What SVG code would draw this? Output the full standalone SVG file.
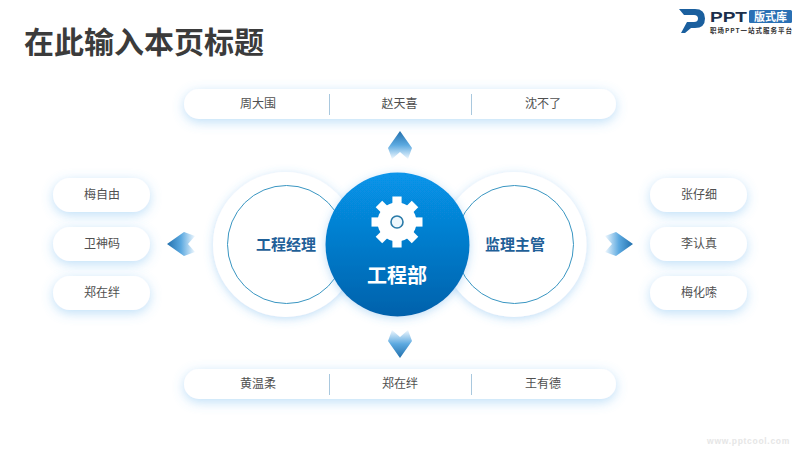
<svg xmlns="http://www.w3.org/2000/svg" xmlns:xlink="http://www.w3.org/1999/xlink" width="800" height="450" viewBox="0 0 800 450">
<style>
text{font-family:"Liberation Sans","Noto Sans CJK SC",sans-serif}
.cjk{font-family:"Noto Sans CJK SC",sans-serif}
.name{font-size:12px;fill:#505050;text-anchor:middle;dominant-baseline:central}
.bar,.pill,.disc{fill:#fff;filter:url(#soft)}
.div{stroke:#a9c8de;stroke-width:1}
.ring{fill:#fff;stroke:#3a96c2;stroke-width:1}
.sub{font-size:15px;font-weight:700;fill:#1f6098;text-anchor:middle;dominant-baseline:central}
</style>
<defs>
<filter id="soft" x="-30%" y="-60%" width="160%" height="240%"><feDropShadow dx="0" dy="3" stdDeviation="6" flood-color="#5db0ee" flood-opacity=".4"/></filter>
<filter id="softc" x="-30%" y="-30%" width="160%" height="160%"><feDropShadow dx="0" dy="2" stdDeviation="5" flood-color="#4aa3e8" flood-opacity=".35"/></filter>
<linearGradient id="core" x1="0" y1="0" x2="0" y2="1"><stop offset="0" stop-color="#0795ea"/><stop offset="1" stop-color="#0461ab"/></linearGradient>
<linearGradient id="arr" x1="0" y1="0" x2="1" y2="0"><stop offset="0" stop-color="#2270ad"/><stop offset=".5" stop-color="#5ca9e0"/><stop offset="1" stop-color="#f0f8fe"/></linearGradient>
<polygon id="arrow" points="0,0 17,-12 28,-8 21,0 28,8 17,12" fill="url(#arr)"/>
<rect id="tooth" x="-4.600" y="-25.500" width="9.200" height="10" fill="#fff"/>
</defs>
<rect width="800" height="450" fill="#fff"/>
<text id="title" class="cjk" x="24" y="52.500" font-size="30" font-weight="700" fill="#3b3b3b">在此输入本页标题</text>
<g id="logo">
<path d="M679 9H695Q705 9 705 18.500Q705 28 695 28H691L685 33H681L687 22H694Q698 22 698 18.500Q698 15 694 15H684Z" fill="#1a5f9e"/>
<text x="710" y="21.500" font-size="15" font-weight="700" fill="#1b2f4c" textLength="37" lengthAdjust="spacingAndGlyphs">PPT</text>
<rect x="749" y="10" width="43" height="13" rx="1.500" fill="#2a70b4"/>
<text class="cjk" x="770.500" y="20.500" font-size="11" font-weight="700" fill="#fff" text-anchor="middle">版式库</text>
<text class="cjk" x="710" y="32.500" font-size="6.500" font-weight="700" fill="#333" textLength="82" lengthAdjust="spacing">职场PPT一站式服务平台</text>
</g>
<g id="connectors">
<use xlink:href="#arrow" href="#arrow" transform="translate(400 131) rotate(90)"/>
<use xlink:href="#arrow" href="#arrow" transform="translate(400 358) rotate(-90)"/>
<use xlink:href="#arrow" href="#arrow" transform="translate(167 244)"/>
<use xlink:href="#arrow" href="#arrow" transform="translate(633 244) rotate(180)"/>
</g>
<g id="node-top">
<rect class="bar" x="184" y="89" width="432" height="30" rx="15"/>
<line class="div" x1="329.500" y1="94" x2="329.500" y2="115"/><line class="div" x1="471.500" y1="94" x2="471.500" y2="115"/>
<text class="name" x="258" y="104">周大围</text><text class="name" x="399.500" y="104">赵天喜</text><text class="name" x="543" y="104">沈不了</text>
</g>
<g id="node-bottom">
<rect class="bar" x="184" y="369" width="432" height="30" rx="15"/>
<line class="div" x1="329.500" y1="374" x2="329.500" y2="395"/><line class="div" x1="471.500" y1="374" x2="471.500" y2="395"/>
<text class="name" x="258" y="384">黄温柔</text><text class="name" x="400" y="384">郑在绊</text><text class="name" x="543" y="384">王有德</text>
</g>
<g id="node-left-1"><rect class="pill" x="53" y="178" width="97" height="34" rx="17"/><text class="name" x="102" y="195">梅自由</text></g>
<g id="node-left-2"><rect class="pill" x="53" y="227" width="97" height="34" rx="17"/><text class="name" x="102" y="244">卫神码</text></g>
<g id="node-left-3"><rect class="pill" x="53" y="276" width="97" height="34" rx="17"/><text class="name" x="102" y="293">郑在绊</text></g>
<g id="node-right-1"><rect class="pill" x="650" y="178" width="97" height="34" rx="17"/><text class="name" x="699" y="195">张仔细</text></g>
<g id="node-right-2"><rect class="pill" x="650" y="227" width="97" height="34" rx="17"/><text class="name" x="699" y="244">李认真</text></g>
<g id="node-right-3"><rect class="pill" x="650" y="276" width="97" height="34" rx="17"/><text class="name" x="699" y="293">梅化嗦</text></g>
<g id="node-manager">
<circle cx="285.500" cy="244.500" r="72.500" fill="#fff" filter="url(#softc)"/>
<circle class="ring" cx="286.500" cy="244.500" r="59"/>
<text class="sub" x="286" y="244">工程经理</text>
</g>
<g id="node-supervisor">
<circle cx="514" cy="244.500" r="72.500" fill="#fff" filter="url(#softc)"/>
<circle class="ring" cx="514.500" cy="244.500" r="59"/>
<text class="sub" x="515" y="244">监理主管</text>
</g>
<g id="node-center">
<circle cx="397.500" cy="244.500" r="72" fill="url(#core)" filter="url(#softc)"/>
<g transform="translate(397 222)">
<circle r="19.500" fill="#fff"/>
<use xlink:href="#tooth" href="#tooth"/><use xlink:href="#tooth" href="#tooth" transform="rotate(45)"/><use xlink:href="#tooth" href="#tooth" transform="rotate(90)"/><use xlink:href="#tooth" href="#tooth" transform="rotate(135)"/><use xlink:href="#tooth" href="#tooth" transform="rotate(180)"/><use xlink:href="#tooth" href="#tooth" transform="rotate(225)"/><use xlink:href="#tooth" href="#tooth" transform="rotate(270)"/><use xlink:href="#tooth" href="#tooth" transform="rotate(315)"/>
<circle r="6" fill="#eef7fc" stroke="#2a7aa8" stroke-width="1.600"/>
</g>
<text class="cjk" x="397" y="274" font-size="20" font-weight="700" fill="#fff" text-anchor="middle" dominant-baseline="central">工程部</text>
</g>
<text id="watermark" x="790" y="444" font-size="8.500" font-weight="700" fill="#e6e6e6" text-anchor="end" letter-spacing=".7">www.pptcool.com</text>
</svg>
